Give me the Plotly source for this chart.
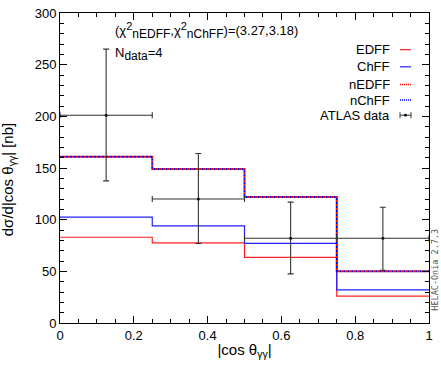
import plotly.graph_objects as go

# bin edges and per-bin values of |cos theta_gg| distribution
bin_edges = [0, 0.25, 0.5, 0.75, 1.0]
edff = [83, 77.5, 63.5, 26]
chff = [102.5, 94, 77, 32]
nedff = [161, 149, 122, 50]
nchff = [161, 149, 122, 50]

# ATLAS data points
data_x = [0.125, 0.375, 0.625, 0.875]
data_y = [201, 120, 82, 82]
data_up = [265, 164, 117, 112]
data_down = [137.5, 77, 47.5, 51]

x_ticks = [0, 0.2, 0.4, 0.6, 0.8, 1]
y_ticks = [0, 50, 100, 150, 200, 250, 300]

legend_names = ["EDFF", "ChFF", "nEDFF", "nChFF", "ATLAS data"]

FONT = "Liberation Sans, Arial, Helvetica, sans-serif"
L, R, T, B = 60, 429, 6, 323  # plot area in pixels


def px(x):
    return (x - L) / (R - L)


def py(y):
    return 1 - (y - T) / (B - T)


def step(vals):
    return bin_edges, vals + [vals[-1]]


fig = go.Figure()

sx, sy = step(edff)
fig.add_trace(go.Scatter(x=sx, y=sy, mode="lines", line_shape="hv",
                         line=dict(color="#ff2020", width=1.2)))
sx, sy = step(chff)
fig.add_trace(go.Scatter(x=sx, y=sy, mode="lines", line_shape="hv",
                         line=dict(color="#2020ff", width=1.2)))
sx, sy = step(nedff)
fig.add_trace(go.Scatter(x=sx, y=sy, mode="lines", line_shape="hv",
                         line=dict(color="#ff0000", width=2, dash="2px,2px")))
sx, sy = step(nchff)
fig.add_trace(go.Scatter(x=sx, y=sy, mode="lines", line_shape="hv",
                         line=dict(color="#0000ff", width=2, dash="0px,2px,2px,0px")))

# data with errors
fig.add_trace(go.Scatter(
    x=data_x, y=data_y, mode="markers",
    marker=dict(color="#111", size=3),
    error_x=dict(type="constant", value=0.125, color="#333", thickness=1.1, width=3),
    error_y=dict(type="data", symmetric=False,
                 array=[u - y for u, y in zip(data_up, data_y)],
                 arrayminus=[y - d for y, d in zip(data_y, data_down)],
                 color="#333", thickness=1.1, width=3),
))

fig.update_layout(
    width=441, height=365, autosize=False,
    margin=dict(l=L, r=441 - R, t=T, b=365 - B),
    paper_bgcolor="white", plot_bgcolor="white",
    showlegend=False,
    font=dict(family=FONT, size=13, color="black"),
)

fig.update_xaxes(
    range=[0, 1], tickmode="array", tickvals=x_ticks,
    ticktext=[f"{v:g}" for v in x_ticks],
    ticks="inside", ticklen=7, tickcolor="black", ticklabeloverflow="allow",
    minor=dict(dtick=0.05, ticks="inside", ticklen=4, tickcolor="black"),
    showline=True, linecolor="black", linewidth=1, mirror="allticks",
    showgrid=False, zeroline=False,
    tickfont=dict(size=13),
    title=dict(text="|cos θ<sub>γγ</sub>|", font=dict(size=15), standoff=2),
)
fig.update_yaxes(
    range=[0, 300], tickmode="array", tickvals=y_ticks,
    ticktext=[str(v) for v in y_ticks],
    ticks="inside", ticklen=7, tickcolor="black", ticklabeloverflow="allow",
    minor=dict(dtick=10, ticks="inside", ticklen=4, tickcolor="black"),
    showline=True, linecolor="black", linewidth=1, mirror="allticks",
    showgrid=False, zeroline=False,
    tickfont=dict(size=13),
)

# y-axis title, placed like the original (a bit below centre)
fig.add_annotation(
    xref="paper", yref="paper", x=px(8), y=py(177),
    xanchor="center", yanchor="middle", showarrow=False, textangle=-90,
    text="dσ/d|cos θ<sub>γγ</sub>| [nb]", font=dict(size=15),
)

# chi2 / N_data text
sub = '<sub><span style="font-size:12px">{}</span></sub>'
sup = '<sup><span style="font-size:11px">2</span></sup>'
fig.add_annotation(
    xref="paper", yref="paper", x=px(113), y=py(24),
    xanchor="left", yanchor="middle", showarrow=False,
    text="(χ" + sup + sub.format("nEDFF") + ",χ" + sup
         + sub.format("nChFF") + ")=(3.27,3.18)",
    font=dict(size=13),
)
fig.add_annotation(
    xref="paper", yref="paper", x=px(113), y=py(48),
    xanchor="left", yanchor="middle", showarrow=False,
    text="N" + sub.format("data") + "=4", font=dict(size=13),
)

# custom legend (text left of sample)
legend_y = [43.5, 61, 79, 95, 110.5]
styles = [("#ff2020", "solid", 1.2), ("#2020ff", "solid", 1.2),
          ("#ff0000", "1px,1px", 1.5), ("#0000ff", "1px,1px", 1.5)]
x0, x1 = px(400), px(411)
for i, name in enumerate(legend_names):
    yy = py(legend_y[i])
    fig.add_annotation(xref="paper", yref="paper", x=px(392), y=yy,
                       xanchor="right", yanchor="middle", showarrow=False,
                       text=name, font=dict(size=13))
    if i < 4:
        c, d, w = styles[i]
        fig.add_shape(type="line", xref="paper", yref="paper",
                      x0=x0, x1=x1, y0=yy, y1=yy,
                      line=dict(color=c, width=w, dash=d))
    else:
        fig.add_shape(type="line", xref="paper", yref="paper",
                      x0=x0, x1=x1, y0=yy, y1=yy, line=dict(color="#333", width=1))
        for xx in (x0, x1):
            fig.add_shape(type="line", xref="paper", yref="paper",
                          x0=xx, x1=xx, y0=yy - 3 / 317, y1=yy + 3 / 317,
                          line=dict(color="#333", width=1))
        fig.add_shape(type="circle", xref="paper", yref="paper",
                      x0=(x0 + x1) / 2 - 1.5 / 369, x1=(x0 + x1) / 2 + 1.5 / 369,
                      y0=yy - 1.5 / 317, y1=yy + 1.5 / 317,
                      fillcolor="#111", line=dict(width=0))

# generator tag
fig.add_annotation(
    xref="paper", yref="paper", x=px(435), y=py(268.5),
    xanchor="center", yanchor="middle", showarrow=False, textangle=-90,
    text="HELAC-Onia 2.7.3",
    font=dict(family="DejaVu Sans Mono, monospace", size=8.5, color="#555"),
)

fig.write_html(
    "out.html",
    config={"displayModeBar": False},
    post_script="document.body.style.margin='0';document.body.style.overflow='hidden';",
)
